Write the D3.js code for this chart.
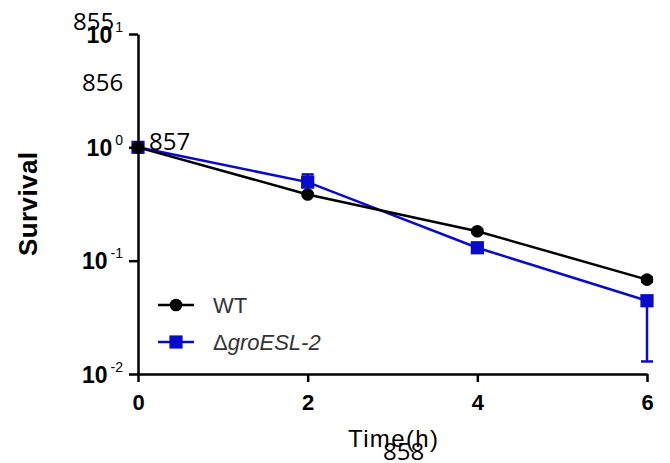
<!DOCTYPE html>
<html><head><meta charset="utf-8">
<script src="https://cdn.jsdelivr.net/npm/d3@7"></script>
<style>body{margin:0;background:#fff}svg{display:block}</style>
</head><body>
<script>
const times = [0, 2, 4, 6];
const seriesNames = ["WT", "ΔgroESL-2"];
const wtMean = [1.0, 0.384, 0.182, 0.068];
const wtLow = [1.0, 0.374, 0.176, 0.065];
const wtHigh = [1.0, 0.394, 0.188, 0.071];
const mutMean = [1.0, 0.493, 0.130, 0.0443];
const mutLow = [1.0, 0.493, 0.120, 0.0129];
const mutHigh = [1.0, 0.577, 0.140, 0.0443];
const xTicks = [0, 2, 4, 6];
const yTickExps = [1, 0, -1, -2];
const overlayLabels = ["855", "856", "857", "858"];

const W = 670, H = 463;
const svg = d3.select("body").append("svg").attr("width", W).attr("height", H);
const x = d3.scaleLinear().domain([0, 6]).range([138, 647]);
const y = d3.scaleLog().domain([0.01, 10]).range([374, 34]);
const FONT = "Liberation Sans, Arial, sans-serif";

// x axis
const xa = svg.append("g").attr("transform", `translate(0,${y(0.01)})`)
  .call(d3.axisBottom(x).tickValues(xTicks).tickSize(8).tickSizeOuter(0).tickPadding(12).tickFormat(d3.format("d")));
xa.select(".domain").attr("stroke-width", 2.5);
xa.selectAll(".tick line").attr("stroke-width", 2.5);
xa.selectAll(".tick text").attr("font-family", FONT).attr("font-weight", "bold").attr("font-size", 22).attr("fill", "#000");

// y axis
const ya = svg.append("g").attr("transform", `translate(${x(0)},0)`)
  .call(d3.axisLeft(y).tickValues(yTickExps.map(e => Math.pow(10, e))).tickSize(9).tickSizeOuter(0).tickFormat(""));
ya.select(".domain").attr("stroke-width", 2.5);
ya.selectAll(".tick line").attr("stroke-width", 2.5);
ya.selectAll(".tick").each(function(d) {
  const e = Math.round(Math.log10(d));
  const t = d3.select(this).append("text")
    .attr("x", -15).attr("y", 8)
    .attr("text-anchor", "end")
    .attr("font-family", FONT)
    .attr("font-weight", "bold").attr("fill", "#000");
  t.append("tspan").attr("font-size", 23).text("10");
  t.append("tspan").attr("font-size", 14).attr("font-weight", "normal").attr("dy", -11).attr("dx", 3).text(String(e));
});

// axis titles
svg.append("text").attr("transform", `translate(37,204) rotate(-90)`)
  .attr("text-anchor", "middle").attr("font-family", FONT)
  .attr("font-weight", "bold").attr("font-size", 26).attr("textLength", 104).text("Survival");
svg.append("text").attr("x", 393).attr("y", 447)
  .attr("text-anchor", "middle").attr("font-family", FONT)
  .attr("font-size", 24).attr("textLength", 90).text("Time(h)");

const blue = "#0a0acc", black = "#000";
const series = [
  {name: seriesNames[1], mean: mutMean, lo: mutLow, hi: mutHigh, color: blue, shape: "square"},
  {name: seriesNames[0], mean: wtMean, lo: wtLow, hi: wtHigh, color: black, shape: "circle"}
];
const line = d3.line().x((d, i) => x(times[i])).y(d => y(d));
series.forEach(s => {
  const g = svg.append("g");
  g.append("path").datum(s.mean).attr("d", line).attr("fill", "none").attr("stroke", s.color).attr("stroke-width", 2.5);
  s.mean.forEach((m, i) => {
    const lo = s.lo[i], hi = s.hi[i];
    if (hi > lo) {
      g.append("line").attr("x1", x(times[i])).attr("x2", x(times[i])).attr("y1", y(lo)).attr("y2", y(hi)).attr("stroke", s.color).attr("stroke-width", 2.5);
      [lo, hi].forEach(v => { if (v !== m) g.append("line").attr("x1", x(times[i]) - 6).attr("x2", x(times[i]) + 6).attr("y1", y(v)).attr("y2", y(v)).attr("stroke", s.color).attr("stroke-width", 2.5); });
    }
  });
  const sym = d3.symbol().type(s.shape === "circle" ? d3.symbolCircle : d3.symbolSquare).size(s.shape === "circle" ? 125 : 175);
  g.selectAll(".pt").data(s.mean).enter().append("path")
    .attr("transform", (d, i) => `translate(${x(times[i])},${y(d)})`)
    .attr("d", sym).attr("fill", s.color);
});

// legend
const legend = [
  {name: seriesNames[0], color: black, shape: d3.symbolCircle, size: 125, yy: 305},
  {name: seriesNames[1], color: blue, shape: d3.symbolSquare, size: 175, yy: 342}
];
legend.forEach(l => {
  svg.append("line").attr("x1", 158).attr("x2", 194).attr("y1", l.yy).attr("y2", l.yy).attr("stroke", l.color).attr("stroke-width", 2.5);
  svg.append("path").attr("transform", `translate(176,${l.yy})`).attr("d", d3.symbol().type(l.shape).size(l.size)).attr("fill", l.color);
  const t = svg.append("text").attr("x", 213).attr("y", l.yy + 8).attr("font-family", FONT).attr("font-size", 22).attr("fill", "#333");
  if (l.name === "WT") t.text(l.name);
  else { t.append("tspan").text("Δ"); t.append("tspan").attr("font-style", "italic").text(l.name.slice(1)); }
});

// overlay labels
const ov = [[73, 30], [82, 91], [149, 150], [383, 460]];
overlayLabels.forEach((lab, i) => {
  svg.append("text").attr("x", ov[i][0]).attr("y", ov[i][1]).attr("font-family", "Open Sans, sans-serif").attr("font-size", 24).attr("fill", "#000").text(lab);
});
</script>
</body></html>
